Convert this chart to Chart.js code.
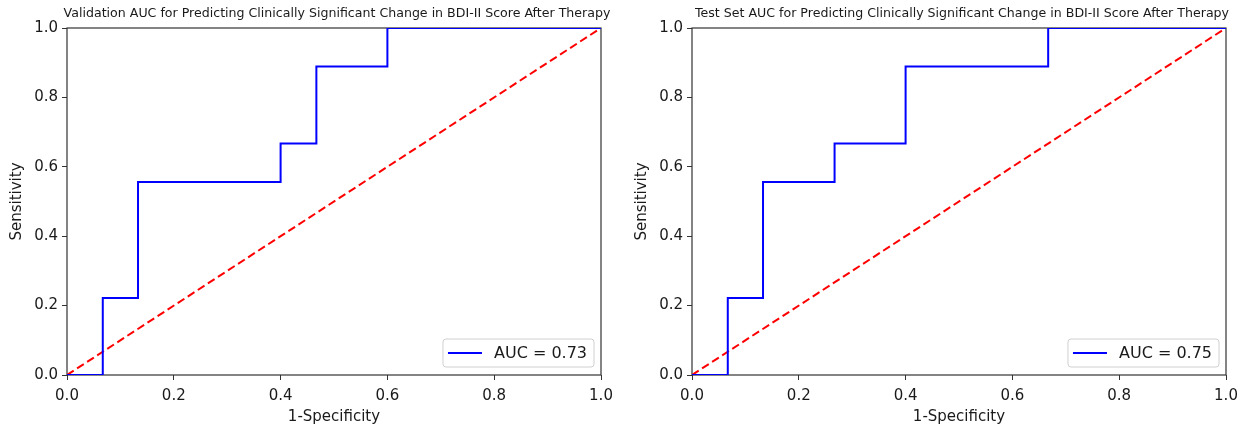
<!DOCTYPE html>
<html>
<head>
<meta charset="utf-8">
<title>ROC curves</title>
<script src="https://cdn.jsdelivr.net/npm/chart.js@4.4.0/dist/chart.umd.min.js"></script>
<style>
  html, body { margin: 0; padding: 0; background: #fff; }
  #wrap { position: relative; width: 1259px; height: 428px; }
  canvas { position: absolute; top: 0; }
  #roc-val { left: 0; }
  #roc-test { left: 625px; }
</style>
</head>
<body>
<div id="wrap">
  <canvas id="roc-val" width="625" height="428"></canvas>
  <canvas id="roc-test" width="625" height="428"></canvas>
</div>
<script>
// ROC corner points (false positive rate / true positive rate)
const valFpr = [0, 0.067, 0.067, 0.133, 0.133, 0.4, 0.4, 0.467, 0.467, 0.6, 0.6, 1.0];
const valTpr = [0, 0, 0.222, 0.222, 0.556, 0.556, 0.667, 0.667, 0.889, 0.889, 1.0, 1.0];
const valAuc = 0.73;

const testFpr = [0, 0.067, 0.067, 0.133, 0.133, 0.267, 0.267, 0.4, 0.4, 0.667, 0.667, 1.0];
const testTpr = [0, 0, 0.222, 0.222, 0.556, 0.556, 0.667, 0.667, 0.889, 0.889, 1.0, 1.0];
const testAuc = 0.75;

// chance line
const chanceX = [0, 1];
const chanceY = [0, 1];

const FONT = 'DejaVu Sans';
const INK = '#1a1a1a';

// frame around the plot area, a title centred over it (wider than the
// plot, so not squeezed to its width) and a legend box in the lower right
const framePlugin = {
  id: 'frame',
  beforeDatasetsDraw(chart) {
    const { ctx, chartArea: a } = chart;
    ctx.save();
    ctx.strokeStyle = '#333';
    ctx.lineWidth = 1.2;
    ctx.strokeRect(a.left, a.top, a.right - a.left, a.bottom - a.top);
    ctx.restore();
  },
  afterDatasetsDraw(chart, args, opts) {
    const { ctx, chartArea: a } = chart;
    const ds = chart.data.datasets[0];
    ctx.save();

    ctx.font = '12.6px "' + FONT + '"';
    ctx.fillStyle = INK;
    ctx.textAlign = 'center';
    ctx.textBaseline = 'middle';
    ctx.fillText(opts.title, (a.left + a.right) / 2 + 3, 14);

    ctx.font = '16px "' + FONT + '"';
    ctx.textAlign = 'left';
    const tw = ctx.measureText(ds.label).width;
    const h = 28;
    const w = 58 + tw;
    const x = a.right - 7 - w;
    const y = a.bottom - 8 - h;
    ctx.beginPath();
    ctx.roundRect(x, y, w, h, 3);
    ctx.fillStyle = 'rgba(255,255,255,0.85)';
    ctx.fill();
    ctx.strokeStyle = '#d0d0d0';
    ctx.lineWidth = 1;
    ctx.stroke();
    ctx.beginPath();
    ctx.moveTo(x + 5, y + h / 2);
    ctx.lineTo(x + 39, y + h / 2);
    ctx.strokeStyle = ds.borderColor;
    ctx.lineWidth = 2;
    ctx.stroke();
    ctx.fillStyle = INK;
    ctx.fillText(ds.label, x + 51, y + h / 2 + 1);
    ctx.restore();
  }
};

function toPoints(xs, ys) {
  return xs.map((x, i) => ({ x: x, y: ys[i] }));
}

function axis(titleText, isX) {
  return {
    type: 'linear',
    min: 0,
    max: 1,
    border: { display: false },
    grid: {
      display: true,
      drawOnChartArea: false,
      drawTicks: true,
      tickLength: 5,
      color: '#333',
      lineWidth: 1
    },
    ticks: {
      stepSize: 0.2,
      padding: isX ? 7 : 4,
      color: INK,
      font: { family: FONT, size: 15 },
      callback: v => Number(v).toFixed(1)
    },
    title: {
      display: true,
      text: titleText,
      color: INK,
      font: { family: FONT, size: 15 },
      padding: isX ? { top: 0, bottom: 2 } : { top: 8, bottom: 0 }
    },
    afterFit: isX ? s => { s.height = 53; } : s => { s.width = 67; }
  };
}

function makeRoc(id, titleText, fpr, tpr, auc) {
  const ctx = document.getElementById(id).getContext('2d');
  return new Chart(ctx, {
    type: 'line',
    data: {
      datasets: [
        {
          label: 'AUC = ' + auc.toFixed(2),
          data: toPoints(fpr, tpr),
          borderColor: '#0000ff',
          borderWidth: 2,
          pointRadius: 0,
          fill: false,
          tension: 0
        },
        {
          label: 'chance',
          data: toPoints(chanceX, chanceY),
          borderColor: '#ff0000',
          borderWidth: 2,
          borderDash: [8, 4],
          pointRadius: 0,
          fill: false
        }
      ]
    },
    options: {
      responsive: false,
      animation: false,
      devicePixelRatio: 1,
      layout: { padding: { left: 0, right: 24, top: 28, bottom: 0 } },
      plugins: {
        legend: { display: false },
        tooltip: { enabled: false },
        title: { display: false },
        frame: { title: titleText }
      },
      scales: {
        x: axis('1-Specificity', true),
        y: axis('Sensitivity', false)
      }
    },
    plugins: [framePlugin]
  });
}

makeRoc('roc-val',
  'Validation AUC for Predicting Clinically Significant Change in BDI-II Score After Therapy',
  valFpr, valTpr, valAuc);
makeRoc('roc-test',
  'Test Set AUC for Predicting Clinically Significant Change in BDI-II Score After Therapy',
  testFpr, testTpr, testAuc);
</script>
</body>
</html>
